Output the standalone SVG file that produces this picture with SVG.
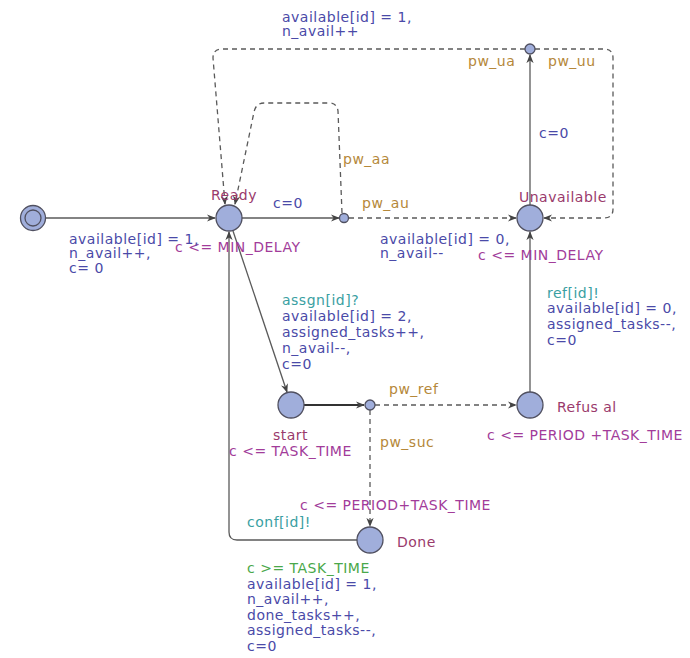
<svg xmlns="http://www.w3.org/2000/svg" width="690" height="658" viewBox="0 0 690 658">
  <defs>
    <marker id="arr" viewBox="0 0 10 10" refX="9" refY="5" markerWidth="9" markerHeight="9" markerUnits="userSpaceOnUse" orient="auto">
      <path d="M0,1 L10,5 L0,9 L3,5 Z" fill="#444"/>
    </marker>
    <style>
      .edge { fill: none; stroke: #5a5a5a; stroke-width: 1.3; marker-end: url(#arr); }
      .dash { stroke-dasharray: 5 4; }
      .thick { stroke: #333; stroke-width: 2; }
      .loc { fill: #a0aedb; stroke: #505060; stroke-width: 1.3; }
      text { font-family: "DejaVu Sans", "Liberation Sans", sans-serif; font-size: 14px; letter-spacing: 0.5px; }
      .upd { fill: #4a4aa8; }
      .name { fill: #9a3a6c; }
      .inv { fill: #a23c9a; }
      .sync { fill: #3aa0a2; }
      .guard { fill: #4aa84a; }
      .prob { fill: #b5883a; }
    </style>
  </defs>
  <rect width="690" height="658" fill="#ffffff"/>

  <!-- transitions -->
  <g id="edges">
    <path class="edge" d="M46,218 L215,218"/>
    <path class="edge" d="M242,218 L339,218"/>
    <path class="edge dash" d="M349,218 L516,218"/>
    <path class="edge dash" d="M342,213 L338,111 Q337,103 329,103 L264,103 Q256,103 254,112 L235,204"/>
    <path class="edge dash" d="M525,49 L222,49 Q213,49 213,58 L225,204"/>
    <path class="edge dash" d="M535,49 L604,49 Q613,49 613,58 L613,209 Q613,218 604,218 L544,218"/>
    <path class="edge" d="M530,205 L530,55"/>
    <path class="edge" d="M233,231 L287,392"/>
    <path class="edge thick" d="M304,405 L364,405"/>
    <path class="edge dash" d="M375,405 L516,405"/>
    <path class="edge dash" d="M370,410 L370,526"/>
    <path class="edge" d="M530,392 L530,232"/>
    <path class="edge" d="M357,540 L237,540 Q229,540 229,532 L229,232"/>
  </g>

  <!-- locations -->
  <g id="init">
    <circle class="loc" cx="33" cy="218" r="12.5"/>
    <circle cx="33" cy="218" r="8" fill="none" stroke="#505060" stroke-width="1.3"/>
  </g>
  <g id="ready">
    <circle class="loc" cx="229" cy="218" r="13"/>
    <text class="name" x="211" y="200">Ready</text>
    <text class="inv" x="175" y="252">c &lt;= MIN_DELAY</text>
  </g>
  <g id="branch-au">
    <circle class="loc" cx="344" cy="218" r="4.5"/>
  </g>
  <g id="unavailable">
    <circle class="loc" cx="530" cy="218" r="13"/>
    <text class="name" x="519" y="202">Unavailable</text>
    <text class="inv" x="478" y="260">c &lt;= MIN_DELAY</text>
  </g>
  <g id="branch-u">
    <circle class="loc" cx="530" cy="49" r="5"/>
  </g>
  <g id="start">
    <circle class="loc" cx="291" cy="405" r="13"/>
    <text class="name" x="273" y="440">start</text>
    <text class="inv" x="229" y="456">c &lt;= TASK_TIME</text>
  </g>
  <g id="branch-s">
    <circle class="loc" cx="370" cy="405" r="5"/>
  </g>
  <g id="refusal">
    <circle class="loc" cx="530" cy="405" r="13"/>
    <text class="name" x="557" y="412">Refus al</text>
    <text class="inv" x="487" y="440">c &lt;= PERIOD +TASK_TIME</text>
  </g>
  <g id="done">
    <circle class="loc" cx="370" cy="540" r="13"/>
    <text class="name" x="397" y="547">Done</text>
    <text class="inv" x="300" y="510">c &lt;= PERIOD+TASK_TIME</text>
  </g>

  <!-- edge labels -->
  <g id="labels">
    <text class="upd" x="282" y="22">available[id] = 1,</text>
    <text class="upd" x="282" y="36">n_avail++</text>

    <text class="upd" x="69" y="244">available[id] = 1,</text>
    <text class="upd" x="69" y="258">n_avail++,</text>
    <text class="upd" x="69" y="273">c= 0</text>

    <text class="upd" x="273" y="208">c=0</text>
    <text class="prob" x="343" y="164">pw_aa</text>
    <text class="prob" x="362" y="208">pw_au</text>
    <text class="prob" x="468" y="66">pw_ua</text>
    <text class="prob" x="548" y="66">pw_uu</text>
    <text class="upd" x="539" y="138">c=0</text>

    <text class="upd" x="380" y="244">available[id] = 0,</text>
    <text class="upd" x="380" y="258">n_avail--</text>

    <text class="sync" x="547" y="298">ref[id]!</text>
    <text class="upd" x="547" y="313">available[id] = 0,</text>
    <text class="upd" x="547" y="329">assigned_tasks--,</text>
    <text class="upd" x="547" y="345">c=0</text>

    <text class="sync" x="282" y="305">assgn[id]?</text>
    <text class="upd" x="282" y="321">available[id] = 2,</text>
    <text class="upd" x="282" y="337">assigned_tasks++,</text>
    <text class="upd" x="282" y="353">n_avail--,</text>
    <text class="upd" x="282" y="369">c=0</text>

    <text class="prob" x="389" y="394">pw_ref</text>
    <text class="prob" x="380" y="447">pw_suc</text>

    <text class="sync" x="247" y="527">conf[id]!</text>
    <text class="guard" x="247" y="573">c &gt;= TASK_TIME</text>
    <text class="upd" x="247" y="589">available[id] = 1,</text>
    <text class="upd" x="247" y="604">n_avail++,</text>
    <text class="upd" x="247" y="620">done_tasks++,</text>
    <text class="upd" x="247" y="635">assigned_tasks--,</text>
    <text class="upd" x="247" y="651">c=0</text>
  </g>
</svg>
